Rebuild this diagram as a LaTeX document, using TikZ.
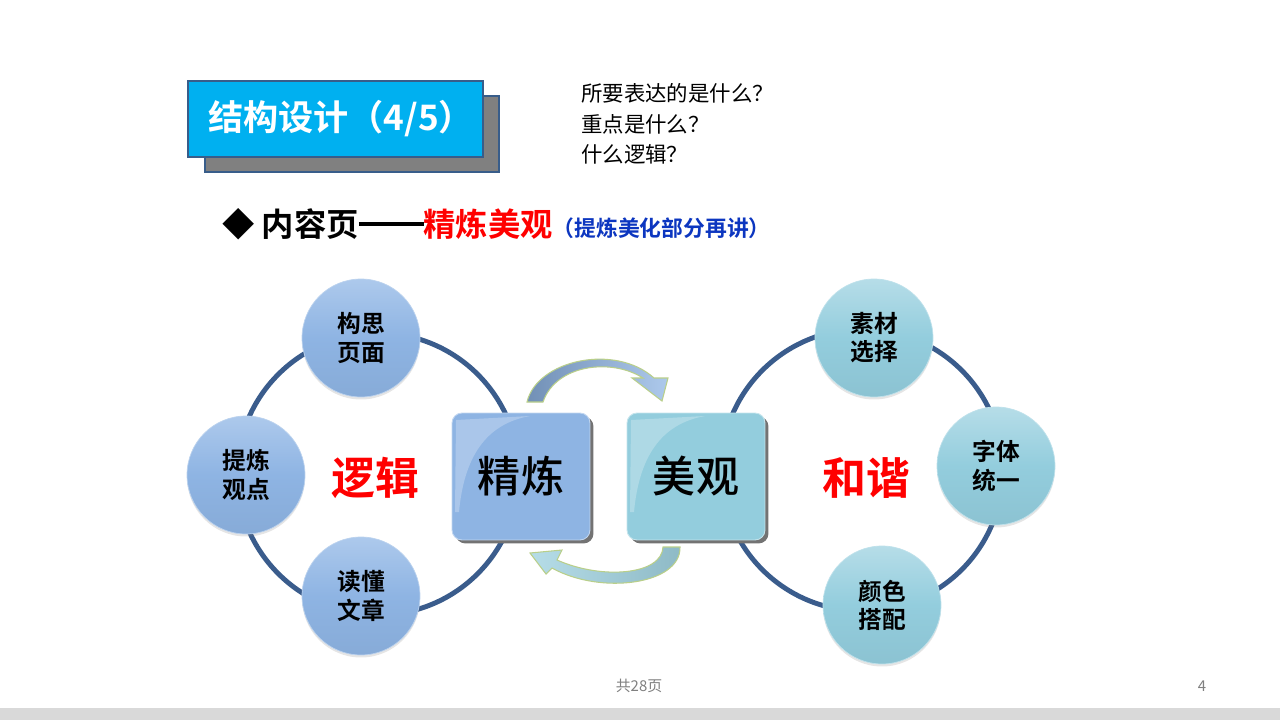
\documentclass[tikz,border=0pt]{standalone}
\usepackage{fontspec}
\setmainfont{Noto Sans CJK SC}[BoldFont={* Bold}]
\newfontfamily\mediumcjk{Noto Sans CJK SC Medium}
\usetikzlibrary{shadows}

\definecolor{titleblue}{HTML}{00B0F0}
\definecolor{edgeblue}{HTML}{385D8A}
\definecolor{ringblue}{HTML}{3A5C8C}
\definecolor{leftfill}{HTML}{8EB4E3}
\definecolor{lefttop}{HTML}{ADC9EC}
\definecolor{rightfill}{HTML}{93CDDD}
\definecolor{righttop}{HTML}{B6DDE8}
\definecolor{textblue}{HTML}{0C36C0}
\definecolor{footgray}{HTML}{D9D9D9}
\definecolor{arrowedge}{HTML}{B9CF8A}

\newcommand{\longdash}{\rule[0.33em]{2em}{0.1em}}

\tikzset{
  ring/.style={draw=ringblue,line width=2.8pt},
  bubble/.style={circle,minimum size=2.36cm,inner sep=0pt,align=center,
    font=\bfseries\fontsize{13.5}{16}\selectfont,line width=0.4pt,
    drop shadow={shadow xshift=0cm,shadow yshift=-0.05cm,opacity=0.2}},
  lbubble/.style={bubble,draw=white!40!leftfill,top color=lefttop,bottom color=leftfill!95!black,middle color=leftfill},
  rbubble/.style={bubble,draw=white!40!rightfill,top color=righttop,bottom color=rightfill!95!black,middle color=rightfill},
  bigbox/.style={rounded corners=0.2cm,minimum width=2.76cm,minimum height=2.54cm,inner sep=0pt,
    font=\mediumcjk\fontsize{24.5}{28}\selectfont,line width=0.5pt,
    drop shadow={shadow xshift=0.07cm,shadow yshift=-0.07cm,fill=black!55,opacity=1}},
  bigword/.style={text=red,font=\bfseries\fontsize{25}{28}\selectfont},
  gloss/.style={fill=white,opacity=0.25}
}

\begin{document}
\begin{tikzpicture}[x=0.02cm,y=-0.02cm]
  \useasboundingbox (0,0) rectangle (1280,720);
  \fill[white] (0,0) rectangle (1280,720);

  \node[draw=edgeblue,line width=1.3pt,fill=gray,minimum width=5.88cm,minimum height=1.52cm] (titleshadow) at (352,134) {};
  \node[draw=edgeblue,line width=1.3pt,fill=titleblue,minimum width=5.9cm,minimum height=1.52cm] (title) at (335.5,119) {};
  \node[text=white,font=\bfseries\fontsize{20}{24}\selectfont] (titletext) at (341,119) {结构设计（4/5）};

  \node[anchor=west,font=\fontsize{12.2}{14}\selectfont] (q1) at (575,93) {所要表达的是什么？};
  \node[anchor=west,font=\fontsize{12.2}{14}\selectfont] (q2) at (575,124) {重点是什么？};
  \node[anchor=west,font=\fontsize{12.2}{14}\selectfont] (q3) at (575,154) {什么逻辑？};

  \node[anchor=west,font=\bfseries\fontsize{18.4}{22}\selectfont] (subtitle) at (216,224)
    {◆ 内容页\longdash\textcolor{red}{精炼美观}{\fontsize{12.4}{14}\selectfont\textcolor{textblue}{（提炼美化部分再讲）}}};

  \coordinate (lhub) at (378,474);
  \coordinate (rhub) at (862,470);
  \draw[ring] (lhub) circle[radius=2.82cm];
  \draw[ring] (rhub) circle[radius=2.82cm];

  \node[lbubble] (goushi) at (361,338) {构思\\页面};
  \node[lbubble] (tilian) at (246,475) {提炼\\观点};
  \node[lbubble] (dudong) at (361,596) {读懂\\文章};
  \node[rbubble] (sucai) at (874,338) {素材\\选择};
  \node[rbubble] (ziti) at (996,466) {字体\\统一};
  \node[rbubble] (yanse) at (882,605) {颜色\\搭配};

  \node[bigword] (luoji) at (375,478) {逻辑};
  \node[bigword] (hexie) at (866,478) {和谐};

  \node[bigbox,fill=leftfill,draw=white!45!leftfill] (jinglian) at (521,476.5) {精炼};
  \node[bigbox,fill=rightfill,draw=white!45!rightfill] (meiguan) at (696,476.5) {美观};
  \fill[gloss] (456,420) -- (530,416) .. controls (485,424) and (464,458) .. (459,512) -- (455,512) -- cycle;
  \fill[gloss] (631,420) -- (705,416) .. controls (660,424) and (639,458) .. (634,512) -- (630,512) -- cycle;

  \path[draw=arrowedge,line width=0.6pt,left color=leftfill!80!black,right color=lefttop]
    (527,402) .. controls (537,360) and (615,343) .. (654,378) -- (668,378) -- (662,401) -- (632,378) -- (643,378)
    .. controls (612,358) and (556,364) .. (543,402) -- cycle;
  \path[draw=arrowedge,line width=0.6pt,left color=righttop,right color=rightfill!75!gray]
    (680,547) .. controls (681,585) and (600,595) .. (552,568) -- (546,574) -- (530,553) -- (562,550) -- (557,560)
    .. controls (602,580) and (662,575) .. (663,547) -- cycle;

  \fill[footgray] (0,708) rectangle (1280,720);
  \node[text=gray,font=\fontsize{8.5}{10}\selectfont] (pages) at (639,686) {共28页};
  \node[text=gray,font=\fontsize{8.5}{10}\selectfont] (pageno) at (1202,686) {4};
\end{tikzpicture}
\end{document}
